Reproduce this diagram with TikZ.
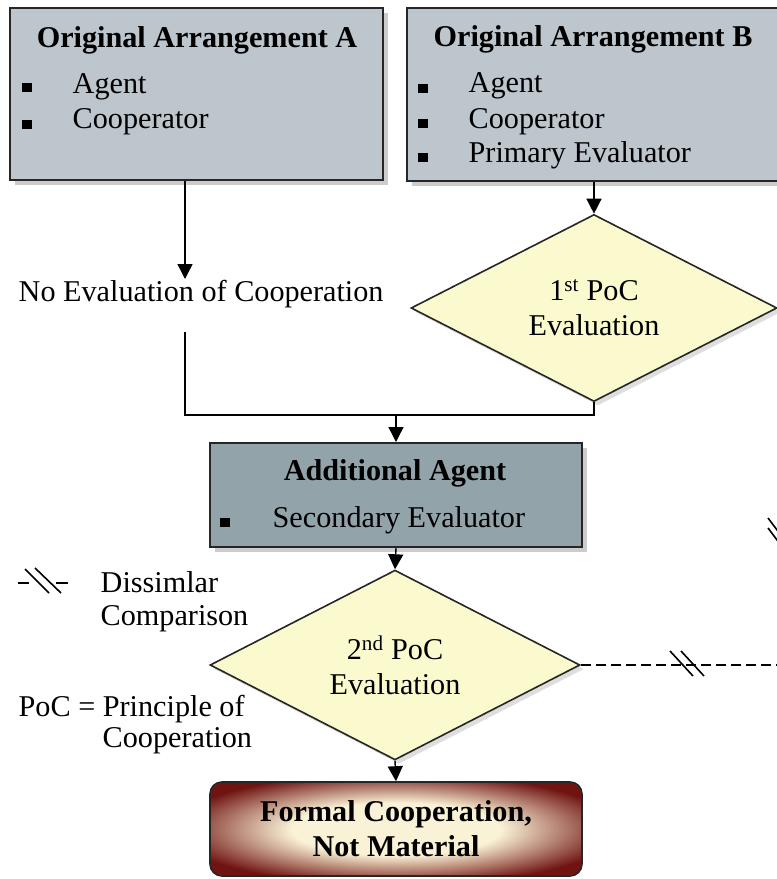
\documentclass[tikz,border=0pt]{standalone}
\usepackage{fontspec}
\setmainfont{Liberation Serif}
\usetikzlibrary{shapes.geometric,arrows.meta,shadows}
\definecolor{armgray}{RGB}{189,197,205}
\definecolor{addgray}{RGB}{146,164,170}
\definecolor{pocyellow}{RGB}{251,250,206}
\definecolor{endred}{RGB}{112,20,18}
\definecolor{endcream}{RGB}{250,242,214}
\pgfdeclareradialshading{endglow}{\pgfpoint{0bp}{0bp}}{color(0bp)=(endcream);
  color(14bp)=(endcream); color(30bp)=(endred); color(75bp)=(endred)}
\newcommand\bigfont{\fontsize{30.2}{35}\selectfont}

\begin{document}
\begin{tikzpicture}[x=1pt,y=-1pt,line width=1.4pt,
  >={Triangle[length=15pt,width=15pt]},
  font=\bigfont,
  every node/.style={inner sep=0pt},
  box/.style={draw=black!85,line width=2pt,fill=#1,
    drop shadow={shadow xshift=5pt,shadow yshift=-5pt,fill=black!20,opacity=1}},
  poc/.style={diamond,draw=black!85,line width=1.6pt,fill=pocyellow,align=center,
    drop shadow={shadow xshift=4pt,shadow yshift=-4pt,fill=black!13,opacity=1}},
  bul/.style={fill=black,minimum width=10pt,minimum height=9pt},
  cmp/.style={dash pattern=on 10pt off 5pt},
  slash/.style={line width=1.6pt}]
  \useasboundingbox[fill=white] (0,0) rectangle (777,879);

  \node[box=armgray,minimum width=373pt,minimum height=172pt] (armA) at (196.5,94) {};
  \node[anchor=base] (titA) at (197,47) {\bfseries Original Arrangement A};
  \node[bul] (bA1) at (27,87) {};
  \node[anchor=base west] (agA) at (72,93) {Agent};
  \node[bul] (bA2) at (27,124) {};
  \node[anchor=base west] (coA) at (72,128) {Cooperator};

  \node[box=armgray,minimum width=375pt,minimum height=173pt] (armB) at (594,94.5) {};
  \node[anchor=base] (titB) at (593,46) {\bfseries Original Arrangement B};
  \node[bul] (bB1) at (423,88) {};
  \node[anchor=base west] (agB) at (468,92) {Agent};
  \node[bul] (bB2) at (423,123) {};
  \node[anchor=base west] (coB) at (468,128) {Cooperator};
  \node[bul] (bB3) at (423,157) {};
  \node[anchor=base west] (evB) at (468,162) {Primary Evaluator};

  \node[anchor=base west] (noeval) at (18,301) {No Evaluation of Cooperation};
  \coordinate (ta) at (185,279);
  \coordinate (tb) at (185,332);
  \coordinate (jl) at (185,415);

  \node[poc,minimum width=366pt,minimum height=178pt] (poc1) at (594,308)
    {1\textsuperscript{st} PoC\\Evaluation};

  \node[box=addgray,minimum width=372pt,minimum height=104pt] (addA) at (396,495) {};
  \node[anchor=base] (titC) at (395,480) {\bfseries Additional Agent};
  \node[bul] (bC1) at (225,522) {};
  \node[anchor=base west] (seC) at (272,527) {Secondary Evaluator};

  \node[poc,minimum width=370pt,minimum height=176pt] (poc2) at (395,665)
    {2\textsuperscript{nd} PoC\\Evaluation};

  \node[draw=black!85,line width=1.6pt,rounded corners=12pt,shading=endglow,
    minimum width=372pt,minimum height=94pt,align=center,font=\bigfont\bfseries]
    (formal) at (396,829) {Formal Cooperation,\\Not Material};

  \coordinate (lg) at (43,583);
  \node[anchor=base west] (dis1) at (100,592) {Dissimlar};
  \node[anchor=base west] (dis2) at (100,625) {Comparison};
  \node[anchor=base west] (def1) at (18,716) {PoC = Principle of};
  \node[anchor=base west] (def2) at (102,747) {Cooperation};

  \draw[->] (armA.south -| ta) -- (ta);
  \draw (tb) -- (jl) -- (jl -| poc1.south) -- (poc1.south);
  \draw[->] (armB.south) -- (poc1.north);
  \draw[->] (addA.north |- jl) -- (addA.north);
  \draw[->] (addA.south) -- (poc2.north);
  \draw[->] (poc2.south) -- (formal.north);

  \coordinate (rc) at (781,665);
  \coordinate (mh) at (688,665);
  \coordinate (mv) at (781,535);
  \draw[cmp] (poc2.east) -- (rc) |- (poc1.east);
  \draw[slash] ([shift={(-18,-14)}]mh) -- ([shift={(5,11)}]mh);
  \draw[slash] ([shift={(-7,-14)}]mh) -- ([shift={(16,11)}]mh);
  \draw[slash] ([shift={(-13,-17)}]mv) -- ([shift={(5,7)}]mv);
  \draw[slash] ([shift={(-13,-7)}]mv) -- ([shift={(5,17)}]mv);

  \draw ([xshift=-25]lg) -- ([xshift=-14]lg);
  \draw ([xshift=13]lg) -- ([xshift=25]lg);
  \draw[slash] ([shift={(-18,-14)}]lg) -- ([shift={(6,10)}]lg);
  \draw[slash] ([shift={(-8,-15)}]lg) -- ([shift={(18,10)}]lg);
\end{tikzpicture}
\end{document}
